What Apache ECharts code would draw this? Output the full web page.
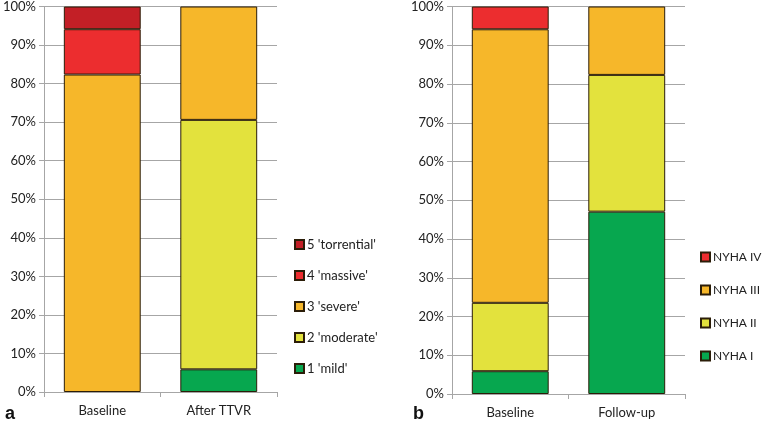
<!DOCTYPE html>
<html>
<head>
<meta charset="utf-8">
<script src="https://cdn.jsdelivr.net/npm/echarts@6/dist/echarts.min.js"></script>
<style>
  html, body { margin: 0; padding: 0; background: #fff; }
  #chart { width: 762px; height: 424px; }
</style>
</head>
<body>
<div id="chart"></div>
<script>
// Panel a: tricuspid regurgitation grade
const catsA = ['Baseline', 'After TTVR'];
const gradeNames = ["1 'mild'", "2 'moderate'", "3 'severe'", "4 'massive'", "5 'torrential'"];
const gradeMild = [0, 5.88];
const gradeModerate = [0, 64.71];
const gradeSevere = [82.35, 29.41];
const gradeMassive = [11.76, 0];
const gradeTorrential = [5.88, 0];

// Panel b: NYHA class
const catsB = ['Baseline', 'Follow-up'];
const nyhaNames = ['NYHA I', 'NYHA II', 'NYHA III', 'NYHA IV'];
const nyhaI = [5.88, 47.06];
const nyhaII = [17.65, 35.29];
const nyhaIII = [70.59, 17.65];
const nyhaIV = [5.88, 0];

const yTicks = [0, 10, 20, 30, 40, 50, 60, 70, 80, 90, 100];

const colors = {
  green: '#07a74f',
  yellow: '#e3e23d',
  orange: '#f6b72a',
  red: '#ec2d2f',
  darkRed: '#c31f26'
};

const chart = echarts.init(document.getElementById('chart'));
const fontFamily = 'Lato, "Noto Sans", sans-serif';
const gridColor = '#a6a6a6';

function makeX(idx, data) {
  return {
    type: 'category',
    gridIndex: idx,
    data: data,
    axisLine: { lineStyle: { color: gridColor, width: 1 } },
    axisTick: { show: true, length: 5, lineStyle: { color: gridColor } },
    axisLabel: { color: '#222', fontSize: 13, fontFamily: fontFamily, margin: 12 }
  };
}

function makeY(idx) {
  return {
    type: 'value',
    gridIndex: idx,
    min: yTicks[0],
    max: yTicks[yTicks.length - 1],
    interval: 10,
    axisLine: { show: true, lineStyle: { color: gridColor, width: 1 } },
    axisTick: { show: true, length: 5, lineStyle: { color: gridColor } },
    splitLine: { show: true, lineStyle: { color: gridColor, width: 1 } },
    axisLabel: {
      color: '#222', fontSize: 13, fontFamily: fontFamily, margin: 8,
      formatter: v => v + '%'
    }
  };
}

function makeBar(name, data, color, idx) {
  return {
    name: name,
    type: 'bar',
    stack: 'panel' + idx,
    xAxisIndex: idx,
    yAxisIndex: idx,
    barWidth: '66%',
    // empty segments are left out so they draw no stray border line
    data: data.map(v => (v === 0 ? null : v)),
    itemStyle: { color: color, borderColor: '#2b1d08', borderWidth: 1 }
  };
}

const series = [
  makeBar(gradeNames[0], gradeMild, colors.green, 0),
  makeBar(gradeNames[1], gradeModerate, colors.yellow, 0),
  makeBar(gradeNames[2], gradeSevere, colors.orange, 0),
  makeBar(gradeNames[3], gradeMassive, colors.red, 0),
  makeBar(gradeNames[4], gradeTorrential, colors.darkRed, 0),
  makeBar(nyhaNames[0], nyhaI, colors.green, 1),
  makeBar(nyhaNames[1], nyhaII, colors.yellow, 1),
  makeBar(nyhaNames[2], nyhaIII, colors.orange, 1),
  makeBar(nyhaNames[3], nyhaIV, colors.red, 1)
];

const legendBase = {
  orient: 'vertical',
  icon: 'rect',
  itemWidth: 9,
  itemHeight: 9,
  itemGap: 0,
  padding: 0,
  selectedMode: false,
  textStyle: {
    color: '#222', fontSize: 13, fontFamily: fontFamily,
    width: 80, overflow: 'none', padding: [0, 0, 0, -2]
  }
};

const option = {
  animation: false,
  backgroundColor: '#fff',
  title: [
    { text: 'a', left: 0, top: 400, textStyle: { fontSize: 18, fontWeight: 'bold', color: '#111', fontFamily: 'Liberation Sans, Arial, sans-serif' } },
    { text: 'b', left: 408, top: 400, textStyle: { fontSize: 18, fontWeight: 'bold', color: '#111', fontFamily: 'Liberation Sans, Arial, sans-serif' } }
  ],
  grid: [
    { left: 43, top: 5, width: 234, height: 387 },
    { left: 452, top: 5, width: 233, height: 389 }
  ],
  xAxis: [makeX(0, catsA), makeX(1, catsB)],
  yAxis: [makeY(0), makeY(1)],
  legend: [
    Object.assign({}, legendBase, {
      left: 294, top: 238,
      itemGap: 18,
      data: gradeNames.slice().reverse()
    }),
    Object.assign({}, legendBase, {
      left: 700, top: 251,
      itemGap: 21,
      textStyle: Object.assign({}, legendBase.textStyle, { fontSize: 12, width: 60 }),
      data: nyhaNames.slice().reverse()
    })
  ],
  series: series
};

chart.setOption(option);
</script>
</body>
</html>
